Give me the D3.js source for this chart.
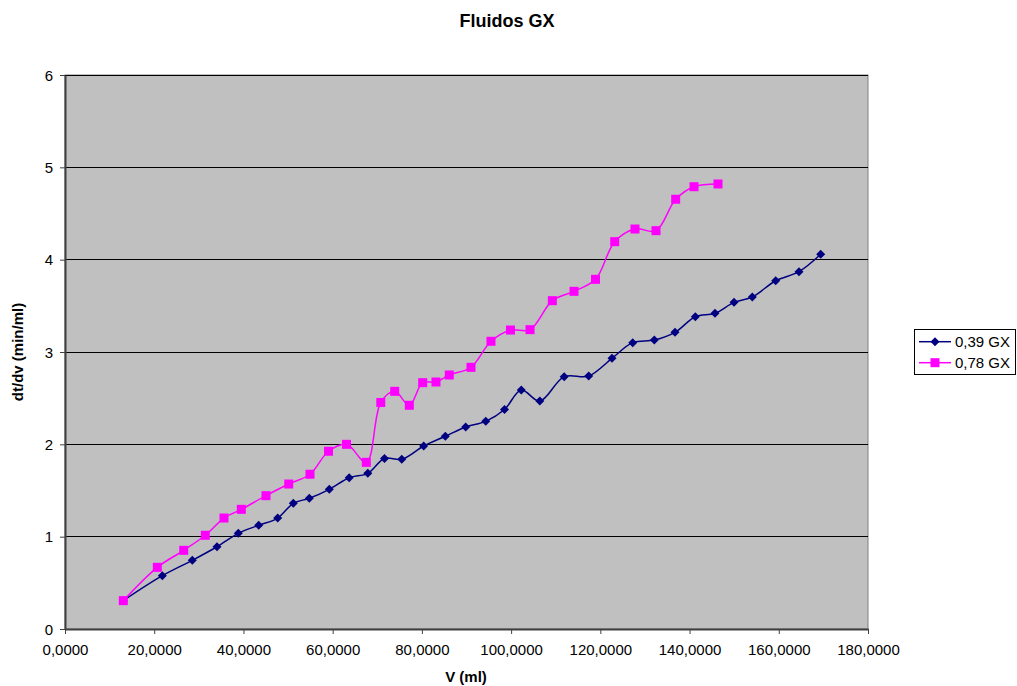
<!DOCTYPE html>
<html><head><meta charset="utf-8">
<script src="https://cdn.jsdelivr.net/npm/d3@7"></script>
<style>body{margin:0;background:#fff;} text{font-family:Arial,"Liberation Sans",sans-serif;}</style>
</head><body>
<svg id="chart" width="1017" height="686"></svg>
<script>
const seriesNames = ["0,39 GX", "0,78 GX"];
const xTicks = [0,20,40,60,80,100,120,140,160,180];
const yTicks = [0,1,2,3,4,5,6];
const blueX = [13.07,21.81,28.54,34.07,38.85,43.42,47.68,51.18,54.76,59.25,63.71,67.88,71.62,75.48,80.41,85.25,89.82,94.31,98.52,102.28,106.43,111.90,117.39,122.62,127.26,132.10,136.74,141.29,145.71,149.97,154.07,159.31,164.53,169.40];
const blueY = [0.307,0.577,0.744,0.891,1.036,1.123,1.202,1.361,1.416,1.513,1.638,1.686,1.847,1.838,1.982,2.087,2.188,2.249,2.377,2.588,2.469,2.733,2.740,2.932,3.101,3.130,3.213,3.382,3.419,3.538,3.596,3.772,3.870,4.058];
const pinkX = [13.07,20.69,26.61,31.45,35.64,39.52,45.06,50.15,54.92,59.07,63.10,67.54,70.79,73.91,77.18,80.18,83.16,86.14,91.01,95.49,99.86,104.24,109.24,114.10,118.92,123.22,127.77,132.48,136.89,141.00,146.38];
const pinkY = [0.307,0.668,0.852,1.015,1.202,1.296,1.444,1.570,1.676,1.925,2.000,1.805,2.453,2.574,2.423,2.668,2.675,2.751,2.834,3.116,3.238,3.242,3.556,3.657,3.787,4.195,4.332,4.314,4.654,4.790,4.820];

const svg = d3.select("#chart");
const L = 65, R = 868, T = 75, B = 629;
const x = d3.scaleLinear().domain([0,180]).range([L,R]);
const y = d3.scaleLinear().domain([0,6]).range([B,T]);
const fmt = d => d3.format(".4f")(d).replace(".", ",");

svg.append("rect").attr("x",L).attr("y",T).attr("width",R-L).attr("height",B-T)
  .attr("fill","#C0C0C0").attr("stroke","#808080").attr("stroke-width",1);

// gridlines
svg.append("g").selectAll("line").data(yTicks.filter(d=>d>0)).join("line")
  .attr("x1",L).attr("x2",R).attr("y1",d=>y(d)).attr("y2",d=>y(d))
  .attr("stroke","#000").attr("stroke-width",1).attr("shape-rendering","crispEdges");

// axes
const xAxis = svg.append("g").attr("transform",`translate(0,${B})`)
  .call(d3.axisBottom(x).tickValues(xTicks).tickFormat(fmt).tickSize(5).tickSizeOuter(0));
const yAxis = svg.append("g").attr("transform",`translate(${L},0)`)
  .call(d3.axisLeft(y).tickValues(yTicks).tickFormat(d=>d).tickSize(5).tickSizeOuter(0));
[xAxis,yAxis].forEach(a=>{
  a.select(".domain").attr("stroke","#404040").attr("stroke-width",2);
  a.selectAll(".tick line").attr("stroke","#404040");
  a.selectAll(".tick text").attr("font-size",15).attr("fill","#000").attr("font-family","Arial, 'Liberation Sans', sans-serif");
});
xAxis.selectAll(".tick text").attr("y",0).attr("dy",0).attr("transform","translate(0,26)");
yAxis.selectAll(".tick text").attr("x",-12).attr("dy","0.35em");

const line = d3.line().x(d=>x(d[0])).y(d=>y(d[1])).curve(d3.curveCatmullRom.alpha(0.5));
const blue = blueX.map((v,i)=>[v,blueY[i]]);
const pink = pinkX.map((v,i)=>[v,pinkY[i]]);

svg.append("path").datum(blue).attr("d",line).attr("fill","none").attr("stroke","#000080").attr("stroke-width",1.5);
svg.append("path").datum(pink).attr("d",line).attr("fill","none").attr("stroke","#FF00FF").attr("stroke-width",1.5);

const diamond = s => `M0,${-s}L${s},0L0,${s}L${-s},0Z`;
svg.append("g").selectAll("path").data(blue).join("path")
  .attr("transform",d=>`translate(${x(d[0])},${y(d[1])})`).attr("d",diamond(4.5)).attr("fill","#000080");
svg.append("g").selectAll("rect").data(pink).join("rect")
  .attr("x",d=>x(d[0])-4.5).attr("y",d=>y(d[1])-4.5).attr("width",9).attr("height",9).attr("fill","#FF00FF");

// title and labels
svg.append("text").attr("x",507).attr("y",27).attr("text-anchor","middle").attr("font-weight","bold").attr("font-size",18).text("Fluidos GX");
svg.append("text").attr("x",466).attr("y",682).attr("text-anchor","middle").attr("font-weight","bold").attr("font-size",15).text("V (ml)");
svg.append("text").attr("transform","translate(23,352) rotate(-90)").attr("text-anchor","middle").attr("font-weight","bold").attr("font-size",15).text("dt/dv (min/ml)");

// legend
const lg = svg.append("g");
lg.append("rect").attr("x",914.5).attr("y",329.5).attr("width",101).attr("height",45).attr("fill","#fff").attr("stroke","#000");
const cols = ["#000080","#FF00FF"];
[341.7,362.7].forEach((ly,i)=>{
  lg.append("line").attr("x1",919).attr("x2",951).attr("y1",ly).attr("y2",ly).attr("stroke",cols[i]).attr("stroke-width",1.5);
  if(i===0) lg.append("path").attr("transform",`translate(935,${ly})`).attr("d",diamond(4.5)).attr("fill",cols[i]);
  else lg.append("rect").attr("x",930.5).attr("y",ly-4.5).attr("width",9).attr("height",9).attr("fill",cols[i]);
  lg.append("text").attr("x",955).attr("y",ly+5.5).attr("font-size",15).text(seriesNames[i]);
});
</script>
</body></html>
